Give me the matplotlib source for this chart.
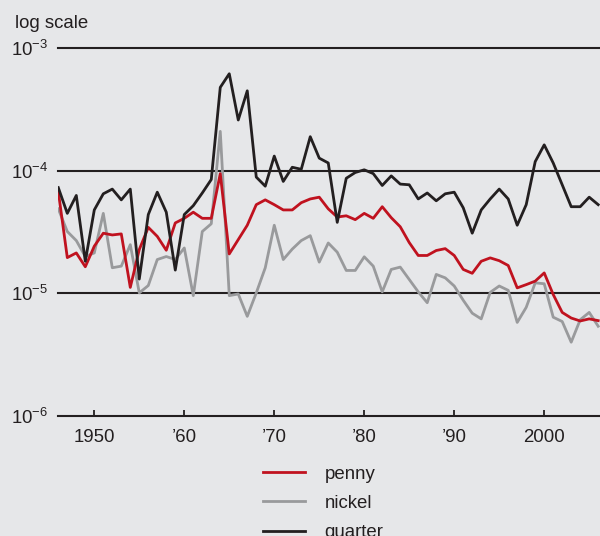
import matplotlib
matplotlib.use("Agg")
import matplotlib.pyplot as plt
import numpy as np

plt.rcParams['font.family'] = ['Liberation Sans', 'DejaVu Sans']
plt.rcParams['mathtext.fontset'] = 'custom'
plt.rcParams['mathtext.rm'] = 'Liberation Sans'
plt.rcParams['mathtext.it'] = 'Liberation Sans'

years = list(range(1946, 2007))

penny = [6.8e-5, 1.96e-5, 2.14e-5, 1.65e-5, 2.43e-5, 3.1e-5, 3.0e-5, 3.06e-5, 1.12e-5, 2.28e-5,
         3.46e-5, 2.92e-5, 2.25e-5, 3.76e-5, 4.1e-5, 4.6e-5, 4.1e-5, 4.1e-5, 9.5e-5, 2.1e-5,
         2.75e-5, 3.6e-5, 5.3e-5, 5.8e-5, 5.3e-5, 4.8e-5, 4.8e-5, 5.5e-5, 5.9e-5, 6.1e-5,
         4.9e-5, 4.2e-5, 4.3e-5, 4.0e-5, 4.5e-5, 4.1e-5, 5.1e-5, 4.15e-5, 3.5e-5, 2.6e-5,
         2.04e-5, 2.04e-5, 2.24e-5, 2.32e-5, 2.04e-5, 1.57e-5, 1.46e-5, 1.83e-5, 1.95e-5, 1.85e-5,
         1.69e-5, 1.11e-5, 1.18e-5, 1.26e-5, 1.47e-5, 9.8e-6, 7.0e-6, 6.3e-6, 5.96e-6, 6.2e-6,
         6.0e-6]

nickel = [4.9e-5, 3.2e-5, 2.7e-5, 2.0e-5, 2.14e-5, 4.5e-5, 1.62e-5, 1.67e-5, 2.5e-5, 1.01e-5,
          1.16e-5, 1.89e-5, 2.0e-5, 1.89e-5, 2.35e-5, 9.6e-6, 3.2e-5, 3.7e-5, 2.1e-4, 9.6e-6,
          9.9e-6, 6.5e-6, 1.01e-5, 1.62e-5, 3.6e-5, 1.89e-5, 2.3e-5, 2.7e-5, 2.96e-5, 1.8e-5,
          2.58e-5, 2.17e-5, 1.54e-5, 1.54e-5, 1.99e-5, 1.67e-5, 1.03e-5, 1.57e-5, 1.64e-5, 1.3e-5,
          1.03e-5, 8.4e-6, 1.43e-5, 1.34e-5, 1.15e-5, 8.8e-6, 6.9e-6, 6.2e-6, 1.02e-5, 1.15e-5,
          1.06e-5, 5.8e-6, 7.7e-6, 1.22e-5, 1.2e-5, 6.4e-6, 5.9e-6, 4.0e-6, 6.1e-6, 7.0e-6,
          5.4e-6]

quarter = [7.3e-5, 4.5e-5, 6.3e-5, 1.83e-5, 4.8e-5, 6.5e-5, 7.1e-5, 5.8e-5, 7.1e-5, 1.31e-5,
           4.4e-5, 6.7e-5, 4.6e-5, 1.55e-5, 4.4e-5, 5.2e-5, 6.6e-5, 8.5e-5, 4.8e-4, 6.2e-4,
           2.6e-4, 4.5e-4, 8.9e-5, 7.5e-5, 1.32e-4, 8.2e-5, 1.07e-4, 1.03e-4, 1.9e-4, 1.27e-4,
           1.16e-4, 3.8e-5, 8.7e-5, 9.7e-5, 1.02e-4, 9.5e-5, 7.6e-5, 9.1e-5, 7.8e-5, 7.7e-5,
           5.9e-5, 6.6e-5, 5.7e-5, 6.5e-5, 6.7e-5, 5.0e-5, 3.1e-5, 4.8e-5, 5.9e-5, 7.1e-5,
           5.9e-5, 3.6e-5, 5.3e-5, 1.19e-4, 1.63e-4, 1.16e-4, 7.7e-5, 5.1e-5, 5.1e-5, 6.1e-5,
           5.3e-5]

xtick_pos = [1950, 1960, 1970, 1980, 1990, 2000]
xtick_labels = ['1950', '\u201960', '\u201970', '\u201980', '\u201990', '2000']
ytick_vals = [1e-6, 1e-5, 1e-4, 1e-3]
ytick_labels = [r'$\mathregular{10^{-6}}$', r'$\mathregular{10^{-5}}$',
                r'$\mathregular{10^{-4}}$', r'$\mathregular{10^{-3}}$']

bg = '#e6e7e9'
txt = '#231f20'
fs = 13.4

fig = plt.figure(figsize=(6.0, 5.36), dpi=100, facecolor=bg)
ax = fig.add_axes([58.3 / 600, 120 / 536, 1 - 58.3 / 600, (416 - 48.3) / 536])
ax.set_facecolor(bg)
ax.set_yscale('log')
ax.set_ylim(1e-6, 1e-3)
ax.set_xlim(1946, 2006.2)

for v in ytick_vals:
    ax.axhline(v, color=txt, lw=1.5, zorder=1, clip_on=False)

ax.plot(years, nickel, color='#999a9c', lw=2.0, label='nickel', zorder=3)
ax.plot(years, penny, color='#c0121f', lw=2.0, label='penny', zorder=4)
ax.plot(years, quarter, color='#231f20', lw=2.0, label='quarter', zorder=5)

for s in ax.spines.values():
    s.set_visible(False)

ax.set_yticks(ytick_vals)
ax.set_yticklabels(ytick_labels)
ax.yaxis.set_minor_locator(matplotlib.ticker.NullLocator())
ax.tick_params(axis='y', length=0, pad=7, labelsize=fs, labelcolor=txt)

ax.set_xticks(xtick_pos)
ax.set_xticklabels(xtick_labels)
ax.tick_params(axis='x', direction='in', length=4, width=1.3, color=txt,
               pad=9.5, labelsize=fs, labelcolor=txt)

fig.text(15 / 600, 1 - 23 / 536, 'log scale', fontsize=fs, color=txt,
         ha='left', va='center')

h, l = ax.get_legend_handles_labels()
order = [l.index('penny'), l.index('nickel'), l.index('quarter')]
leg = fig.legend([h[i] for i in order], [l[i] for i in order],
                 loc='upper left', bbox_to_anchor=(263 / 600, 1 - 465.5 / 536),
                 frameon=False, fontsize=fs, handlelength=2.26, handletextpad=1.05,
                 labelspacing=0.66, borderpad=0, borderaxespad=0)
for t in leg.get_texts():
    t.set_color(txt)

fig.savefig('out.png', dpi=100, facecolor=bg)
